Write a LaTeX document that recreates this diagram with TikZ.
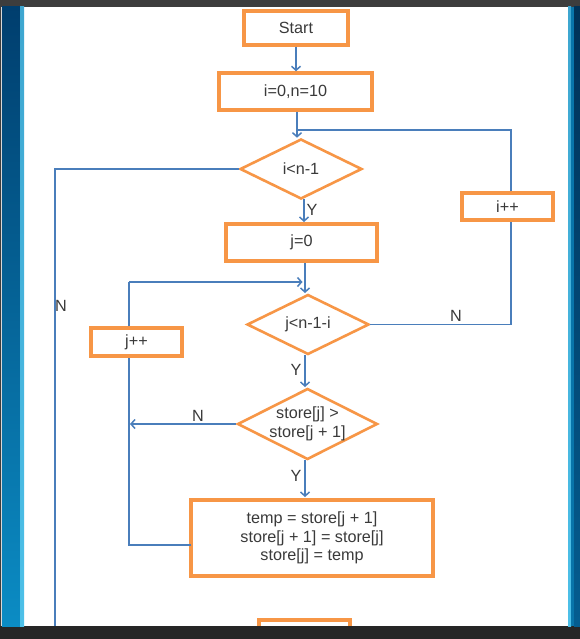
\documentclass[tikz,border=0pt]{standalone}
\usepackage{fontspec}
\setmainfont{Liberation Sans}
\usetikzlibrary{shapes.geometric,arrows.meta,calc}
\definecolor{boxorange}{HTML}{F79646}
\definecolor{flowblue}{HTML}{4A7EBB}
\definecolor{txt}{HTML}{3A3A3A}
\definecolor{barTop}{HTML}{3D3D3D}
\definecolor{barBot}{HTML}{262626}
\definecolor{bandDark}{HTML}{003E6E}
\definecolor{bandLight}{HTML}{0B8CC4}
\definecolor{bandCyan}{HTML}{4DC0E8}
\begin{document}
\begin{tikzpicture}[x=1pt,y=-1pt,
  font=\fontsize{16.2}{18.5}\selectfont, text=txt,
  stepbox/.style={draw=boxorange, line width=3.5pt, fill=white, inner sep=0pt, align=center},
  decide/.style={shape=diamond, draw=boxorange, line width=2.6pt, fill=white, inner sep=0pt, align=center},
  flow/.style={draw=flowblue, line width=1.8pt},
  arr/.style={flow, -{Straight Barb[length=4pt,width=9pt,line width=1.5pt]}},
  lbl/.style={inner sep=0pt}]
\useasboundingbox (0,0) rectangle (580,639);
\fill[white] (0,0) rectangle (580,639);

% nodes
\node[stepbox, minimum width=104pt, minimum height=34pt] (start) at (296,28) {Start};
\node[stepbox, minimum width=153pt, minimum height=37pt] (init) at (295.5,91.5) {i=0,n=10};
\node[decide, minimum width=122pt, minimum height=60pt] (d1) at (301,169) {\makebox[0pt]{i<n-1}};
\node[stepbox, minimum width=151pt, minimum height=37pt] (j0) at (301.5,242.5) {j=0};
\node[stepbox, minimum width=91pt, minimum height=27pt] (ipp) at (507.5,206.5) {i++};
\node[decide, minimum width=122pt, minimum height=60pt] (d2) at (308,324.5) {\makebox[0pt]{j<n-1-i}};
\node[stepbox, minimum width=91pt, minimum height=28pt] (jpp) at (136.5,342) {j++};
\node[decide, minimum width=140pt, minimum height=71pt] (d3) at (307.5,424) {\makebox[0pt]{\shortstack{store[j] >\\[1pt]store[j + 1]}}};
\node[stepbox, minimum width=242pt, minimum height=76pt] (swap) at (312,538)
  {temp = store[j + 1]\\store[j + 1] = store[j]\\store[j] = temp};
\node[stepbox, minimum width=91pt, minimum height=40pt] (next) at (304.5,640) {};

% junction points
\coordinate (topjoin) at (297,130);
\coordinate (outer) at (511,130);
\coordinate (exitB) at (55,640);
\coordinate (jloop) at (129,282);
\coordinate (swapW) at (191,545);
\coordinate (backL) at (129,545);
\coordinate (noswap) at (130,424);

% connectors
\draw[arr] (start.south) -- (start.south |- init.north);
\draw[arr] (init.south -| topjoin) -- (topjoin |- d1.north);
\draw[flow] (d2.east) -- (d2.east -| outer) -- (ipp.south -| outer);
\draw[flow] (ipp.north -| outer) -- (outer) -- (topjoin);
\draw[flow] (d1.west) -- (d1.west -| exitB) -- (exitB);
\draw[arr] (304,199) -- (304,222);
\draw[arr] (305,263) -- (305,293);
\draw[flow] (jpp.north -| jloop) -- (jloop);
\draw[arr] (jloop) -- (302.5,282);
\draw[arr] (305,355) -- (305,387);
\draw[arr] (d3.west) -- (noswap);
\draw[arr] (305,460) -- (305,497);
\draw[flow] (swapW) -- (backL) -- (jpp.south -| backL);

% branch labels
\node[lbl] at (312,210) {Y};
\node[lbl] at (61,306) {N};
\node[lbl] at (456,316) {N};
\node[lbl] at (296,370) {Y};
\node[lbl] at (198,416) {N};
\node[lbl] at (296,476) {Y};

% window frame
\fill[barTop] (0,0) rectangle (580,7);
\fill[barBot] (0,626) rectangle (580,639);
\fill[barTop] (0,7) rectangle (1,626);
\fill[black!15] (1,7) rectangle (2,626);
\shade[top color=bandDark, bottom color=bandLight] (2,7) rectangle (20,626);
\shade[top color=bandCyan!80!bandDark, bottom color=bandCyan] (20,7) rectangle (24,626);
\shade[top color=bandCyan!80!bandDark, bottom color=bandCyan] (568,7) rectangle (571,626);
\fill[bandLight!70!bandDark] (571,7) rectangle (574,626);
\shade[top color=bandDark!80!black, bottom color=bandDark!60!bandLight] (574,7) rectangle (580,626);
\end{tikzpicture}
\end{document}
